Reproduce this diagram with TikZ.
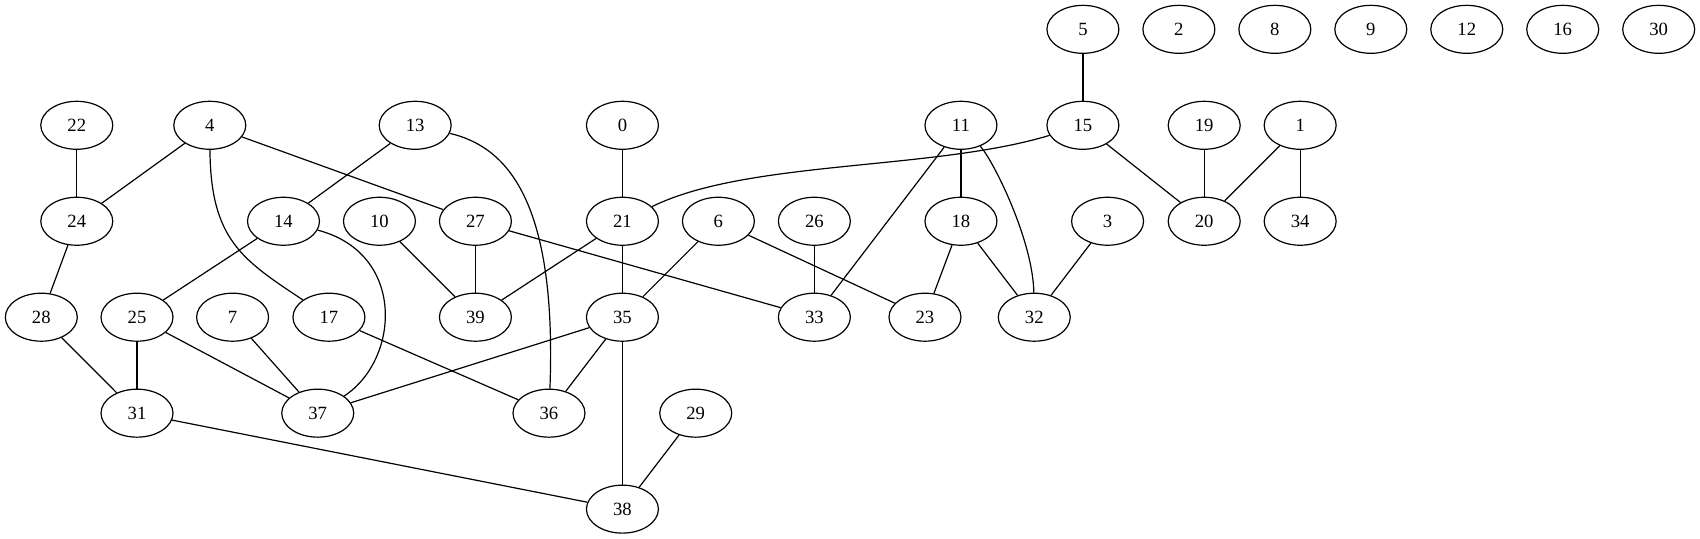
\documentclass[tikz,border=0pt]{standalone}
\usepackage{fontspec}
\setmainfont{Liberation Serif}
\usetikzlibrary{shapes.geometric}
\begin{document}
\begin{tikzpicture}[x=1pt,y=-1pt,
  vtx/.style={draw,ellipse,minimum width=54pt,minimum height=36pt,inner sep=0pt,line width=0.9pt,font=\fontsize{14}{16}\selectfont},
  edge/.style={line width=0.9pt}]
\useasboundingbox (0,0) rectangle (1275.5,404.4);
% rank 0
\node[vtx] (n5) at (812.5,22) {5};
\node[vtx] (n2) at (884.5,22) {2};
\node[vtx] (n8) at (956.5,22) {8};
\node[vtx] (n9) at (1028.5,22) {9};
\node[vtx] (n12) at (1100.5,22) {12};
\node[vtx] (n16) at (1172.5,22) {16};
\node[vtx] (n30) at (1244.5,22) {30};
% rank 1
\node[vtx] (n22) at (57.6,94) {22};
\node[vtx] (n4) at (157.4,94) {4};
\node[vtx] (n13) at (311.5,94) {13};
\node[vtx] (n0) at (467,94) {0};
\node[vtx] (n11) at (721,94) {11};
\node[vtx] (n15) at (812.5,94) {15};
\node[vtx] (n19) at (903.5,94) {19};
\node[vtx] (n1) at (975.5,94) {1};
% rank 2
\node[vtx] (n24) at (57.6,166) {24};
\node[vtx] (n14) at (212.7,166) {14};
\node[vtx] (n10) at (284.7,166) {10};
\node[vtx] (n27) at (356.7,166) {27};
\node[vtx] (n21) at (467,166) {21};
\node[vtx] (n6) at (539,166) {6};
\node[vtx] (n26) at (611,166) {26};
\node[vtx] (n18) at (721,166) {18};
\node[vtx] (n3) at (831,166) {3};
\node[vtx] (n20) at (903.5,166) {20};
\node[vtx] (n34) at (975.5,166) {34};
% rank 3
\node[vtx] (n28) at (31,238) {28};
\node[vtx] (n25) at (102.8,238) {25};
\node[vtx] (n7) at (174.5,238) {7};
\node[vtx] (n17) at (246.8,238) {17};
\node[vtx] (n39) at (356.7,238) {39};
\node[vtx] (n35) at (467,238) {35};
\node[vtx] (n33) at (611,238) {33};
\node[vtx] (n23) at (694,238) {23};
\node[vtx] (n32) at (776,238) {32};
% rank 4
\node[vtx] (n31) at (102.8,310) {31};
\node[vtx] (n37) at (238.4,310) {37};
\node[vtx] (n36) at (411.9,310) {36};
\node[vtx] (n29) at (522,310) {29};
% rank 5
\node[vtx] (n38) at (467,382) {38};
% edges
\draw[edge] (n5) -- (n15);
\draw[edge] (n15) .. controls (700,128) and (560,120) .. (n21);
\draw[edge] (n15) -- (n20);
\draw[edge] (n19) -- (n20);
\draw[edge] (n1) -- (n20);
\draw[edge] (n1) -- (n34);
\draw[edge] (n22) -- (n24);
\draw[edge] (n4) -- (n24);
\draw[edge] (n4) .. controls (158,180) and (182,195) .. (n17);
\draw[edge] (n4) -- (n27);
\draw[edge] (n13) -- (n14);
\draw[edge] (n13) .. controls (380,110) and (418,150) .. (n36);
\draw[edge] (n0) -- (n21);
\draw[edge] (n11) -- (n18);
\draw[edge] (n11) -- (n33);
\draw[edge] (n11) .. controls (745,120) and (775,180) .. (n32);
\draw[edge] (n14) -- (n25);
\draw[edge] (n14) .. controls (305,190) and (300,270) .. (n37);
\draw[edge] (n10) -- (n39);
\draw[edge] (n27) -- (n39);
\draw[edge] (n27) -- (n33);
\draw[edge] (n21) -- (n39);
\draw[edge] (n21) -- (n35);
\draw[edge] (n6) -- (n35);
\draw[edge] (n6) -- (n23);
\draw[edge] (n26) -- (n33);
\draw[edge] (n18) -- (n23);
\draw[edge] (n18) -- (n32);
\draw[edge] (n3) -- (n32);
\draw[edge] (n24) -- (n28);
\draw[edge] (n28) -- (n31);
\draw[edge] (n25) -- (n31);
\draw[edge] (n25) -- (n37);
\draw[edge] (n7) -- (n37);
\draw[edge] (n17) -- (n36);
\draw[edge] (n35) -- (n37);
\draw[edge] (n35) -- (n36);
\draw[edge] (n35) -- (n38);
\draw[edge] (n29) -- (n38);
\draw[edge] (n31) -- (n38);
\end{tikzpicture}
\end{document}
